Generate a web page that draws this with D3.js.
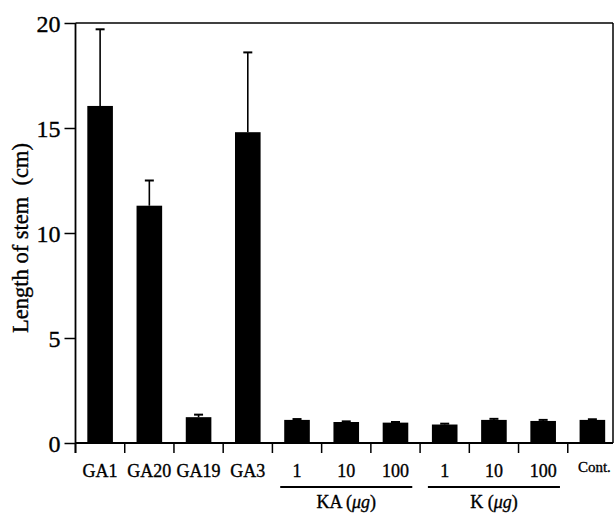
<!DOCTYPE html>
<html>
<head>
<meta charset="utf-8">
<script src="https://cdn.jsdelivr.net/npm/d3@7"></script>
<style>
  body { margin: 0; background: #fff; }
  svg text { font-family: "Liberation Serif", "DejaVu Serif", serif; fill: #000; stroke: #000; stroke-width: 0.35px; }
</style>
</head>
<body>
<svg id="chart" width="614" height="516"></svg>
<script>
// Datos
const categories = ["GA1", "GA20", "GA19", "GA3", "KA1", "KA10", "KA100", "K1", "K10", "K100", "Cont."];
const tickLabels = ["GA1", "GA20", "GA19", "GA3", "1", "10", "100", "1", "10", "100", "Cont."];
const stemLength = [16.05, 11.3, 1.23, 14.8, 1.1, 1.0, 0.97, 0.88, 1.1, 1.05, 1.1];
const stemError = [3.65, 1.2, 0.12, 3.8, 0.04, 0.03, 0.03, 0.04, 0.05, 0.05, 0.03];
const yTicks = [0, 5, 10, 15, 20];
const groups = [
    { label: "KA", from: "KA1", to: "KA100" },
    { label: "K", from: "K1", to: "K100" }
];

const svg = d3.select("#chart");

// Escalas
const x = d3.scaleBand()
    .domain(categories)
    .range([75.5, 617])
    .paddingInner(0.48)
    .paddingOuter(0.24);

const y = d3.scaleLinear()
    .domain([0, 20])
    .range([443, 23]);

const step = x.step();
const left = 75.5;
const right = 613;

// Marco superior y derecho
svg.append("line")
    .attr("x1", left).attr("x2", right)
    .attr("y1", y(20)).attr("y2", y(20))
    .attr("stroke", "#000").attr("stroke-width", 1.5);
svg.append("line")
    .attr("x1", right).attr("x2", right)
    .attr("y1", y(20)).attr("y2", y(0))
    .attr("stroke", "#000").attr("stroke-width", 1.5);

// Barras
svg.selectAll(".bar")
    .data(categories)
    .enter().append("rect")
    .attr("class", "bar")
    .attr("x", function (d) { return x(d); })
    .attr("y", function (d, i) { return y(stemLength[i]); })
    .attr("width", x.bandwidth())
    .attr("height", function (d, i) { return y(0) - y(stemLength[i]); })
    .attr("fill", "#000");

// Barras de error (solo hacia arriba)
const err = svg.selectAll(".err")
    .data(categories)
    .enter().append("g")
    .attr("class", "err");

err.append("line")
    .attr("x1", function (d) { return x(d) + x.bandwidth() / 2; })
    .attr("x2", function (d) { return x(d) + x.bandwidth() / 2; })
    .attr("y1", function (d, i) { return y(stemLength[i]); })
    .attr("y2", function (d, i) { return y(stemLength[i] + stemError[i]); })
    .attr("stroke", "#000").attr("stroke-width", 1.6);

err.append("line")
    .attr("x1", function (d) { return x(d) + x.bandwidth() / 2 - 4.5; })
    .attr("x2", function (d) { return x(d) + x.bandwidth() / 2 + 4.5; })
    .attr("y1", function (d, i) { return y(stemLength[i] + stemError[i]); })
    .attr("y2", function (d, i) { return y(stemLength[i] + stemError[i]); })
    .attr("stroke", "#000").attr("stroke-width", 2);

// Eje Y
const yAxis = svg.append("g")
    .attr("transform", "translate(" + left + ",0)")
    .call(d3.axisLeft(y).tickValues(yTicks).tickSize(11).tickPadding(4).tickSizeOuter(0));
yAxis.select(".domain").remove();
yAxis.selectAll("line").attr("stroke", "#000").attr("stroke-width", 1.5);
yAxis.selectAll("text")
    .style("font-size", "24px")
    .attr("dy", "0.34em");

svg.append("line")
    .attr("x1", left).attr("x2", left)
    .attr("y1", y(20)).attr("y2", y(0) + 10)
    .attr("stroke", "#000").attr("stroke-width", 1.8);

// Eje X: linea base y marcas entre categorias
svg.append("line")
    .attr("x1", left).attr("x2", right)
    .attr("y1", y(0)).attr("y2", y(0))
    .attr("stroke", "#000").attr("stroke-width", 2);

const tickPos = categories.map(function (d) { return x(d) - (step - x.bandwidth()) / 2; });
svg.selectAll(".xtick")
    .data(tickPos)
    .enter().append("line")
    .attr("class", "xtick")
    .attr("x1", function (d) { return d; })
    .attr("x2", function (d) { return d; })
    .attr("y1", y(0))
    .attr("y2", y(0) + 10)
    .attr("stroke", "#000").attr("stroke-width", 1.5);

svg.selectAll(".xlabel")
    .data(categories)
    .enter().append("text")
    .attr("class", "xlabel")
    .attr("x", function (d) { return x(d) + x.bandwidth() / 2 + (d === "Cont." ? 2 : 0); })
    .attr("y", function (d) { return d === "Cont." ? 472 : 477; })
    .attr("text-anchor", "middle")
    .style("font-size", function (d) { return d === "Cont." ? "15px" : "18px"; })
    .text(function (d, i) { return tickLabels[i]; });

// Grupos KA y K
groups.forEach(function (g) {
    const x0 = x(g.from) - 4;
    const x1 = x(g.to) + x.bandwidth() + 4;
    svg.append("line")
        .attr("x1", x0).attr("x2", x1)
        .attr("y1", 487).attr("y2", 487)
        .attr("stroke", "#000").attr("stroke-width", 2);
    const t = svg.append("text")
        .attr("x", (x0 + x1) / 2)
        .attr("y", 508)
        .attr("text-anchor", "middle")
        .style("font-size", "18px");
    t.append("tspan").text(g.label + " (");
    t.append("tspan").style("font-style", "italic").text("\u03bcg");
    t.append("tspan").text(")");
});

// Titulo del eje Y
svg.append("text")
    .attr("transform", "translate(28,238) rotate(-90)")
    .attr("text-anchor", "middle")
    .style("font-size", "22.5px")
    .style("white-space", "pre")
    .text("Length of stem  (cm)");
</script>
</body>
</html>
